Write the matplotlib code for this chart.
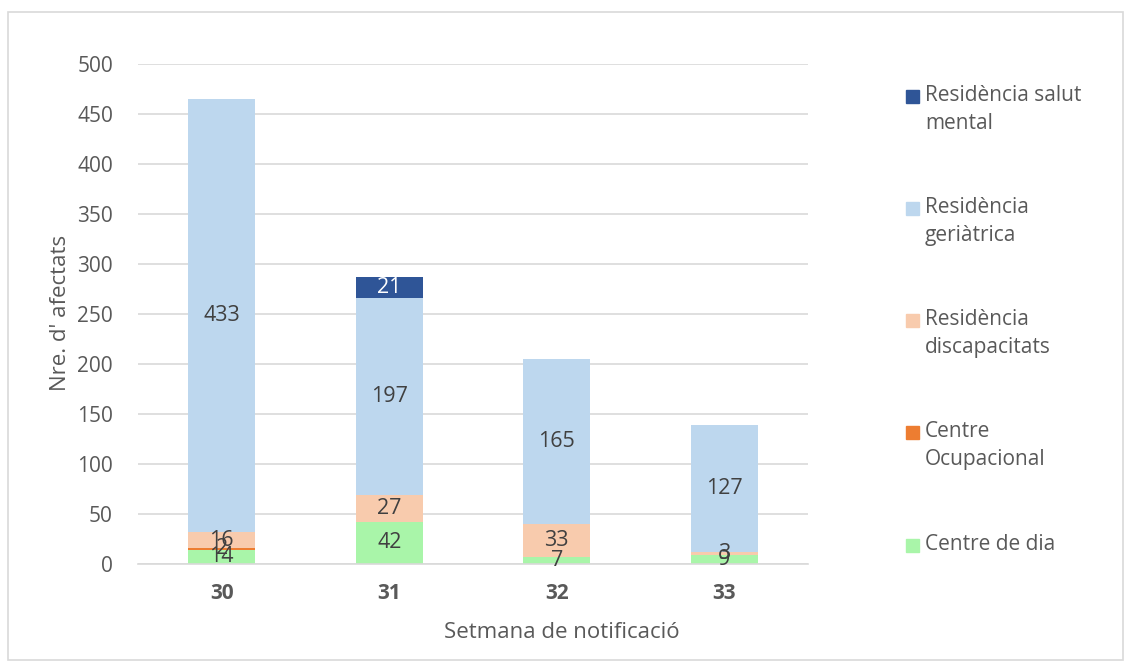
import numpy as np
import matplotlib.pyplot as plt
from matplotlib.patches import Rectangle

plt.rcParams['font.family'] = ['Open Sans', 'DejaVu Sans']

weeks = ["30", "31", "32", "33"]
centre_dia = [14, 42, 7, 9]
centre_ocup = [2, 0, 0, 0]
res_discap = [16, 27, 33, 3]
res_geriat = [433, 197, 165, 127]
res_salut = [0, 21, 0, 0]

series = [
    ("Centre de dia", centre_dia, "#a9f5a9"),
    ("Centre\nOcupacional", centre_ocup, "#ed7d31"),
    ("Residència\ndiscapacitats", res_discap, "#f8cbad"),
    ("Residència\ngeriàtrica", res_geriat, "#bdd7ee"),
    ("Residència salut\nmental", res_salut, "#2f5597"),
]

grey = "#595959"
fig = plt.figure(figsize=(11.31, 6.69), dpi=100)
fig.patches.append(Rectangle((8 / 1131, 9 / 669), 1 - 16 / 1131, 1 - 21 / 669,
                             transform=fig.transFigure, fill=False,
                             edgecolor="#d9d9d9", linewidth=1.2))
ax = fig.add_axes([138 / 1131, 1 - 564 / 669, 670 / 1131, 500 / 669])

x = np.arange(len(weeks))
bottom = np.zeros(len(weeks))
for name, vals, col in series:
    vals = np.array(vals, dtype=float)
    ax.bar(x, vals, 0.4, bottom=bottom, color=col, zorder=2)
    for xi, b, v in zip(x, bottom, vals):
        if v > 0:
            tc = "white" if col == "#2f5597" else "#404040"
            ax.text(xi, b + v / 2, f"{int(v)}", ha="center", va="center",
                    fontsize=15.5, color=tc, zorder=3)
    bottom += vals

ax.set_xlim(-0.5, len(weeks) - 0.5)
ax.set_ylim(0, 500)
ax.set_yticks(range(0, 501, 50))
ax.set_xticks(x)
ax.set_xticklabels(weeks, fontweight="bold")
ax.tick_params(axis="both", length=0, labelsize=15, colors=grey)
ax.tick_params(axis="y", pad=18)
ax.tick_params(axis="x", pad=14)
ax.grid(axis="y", color="#d9d9d9", linewidth=1.2, zorder=0)
for s in ["top", "right", "left"]:
    ax.spines[s].set_visible(False)
ax.spines["bottom"].set_color("#d9d9d9")
ax.spines["bottom"].set_linewidth(1.2)
fig.text(562 / 1131, 1 - 633 / 669, "Setmana de notificació", fontsize=16,
         color=grey, ha="center", va="center")
fig.text(60 / 1131, 1 - 313 / 669, "Nre. d' afectats", fontsize=16,
         color=grey, ha="center", va="center", rotation=90)

# legend drawn by hand to match wrapped entries
leg_y = [96, 208, 320, 432, 545]
for (name, vals, col), yy in zip(series[::-1], leg_y):
    fig.patches.append(Rectangle((906 / 1131, 1 - (yy + 7) / 669), 13 / 1131, 13 / 669,
                                 transform=fig.transFigure, color=col))
    fig.text(925 / 1131, 1 - (yy - 11) / 669, name, ha="left", va="top",
             fontsize=15, color=grey, linespacing=1.45)

fig.savefig("out.png", dpi=100)
